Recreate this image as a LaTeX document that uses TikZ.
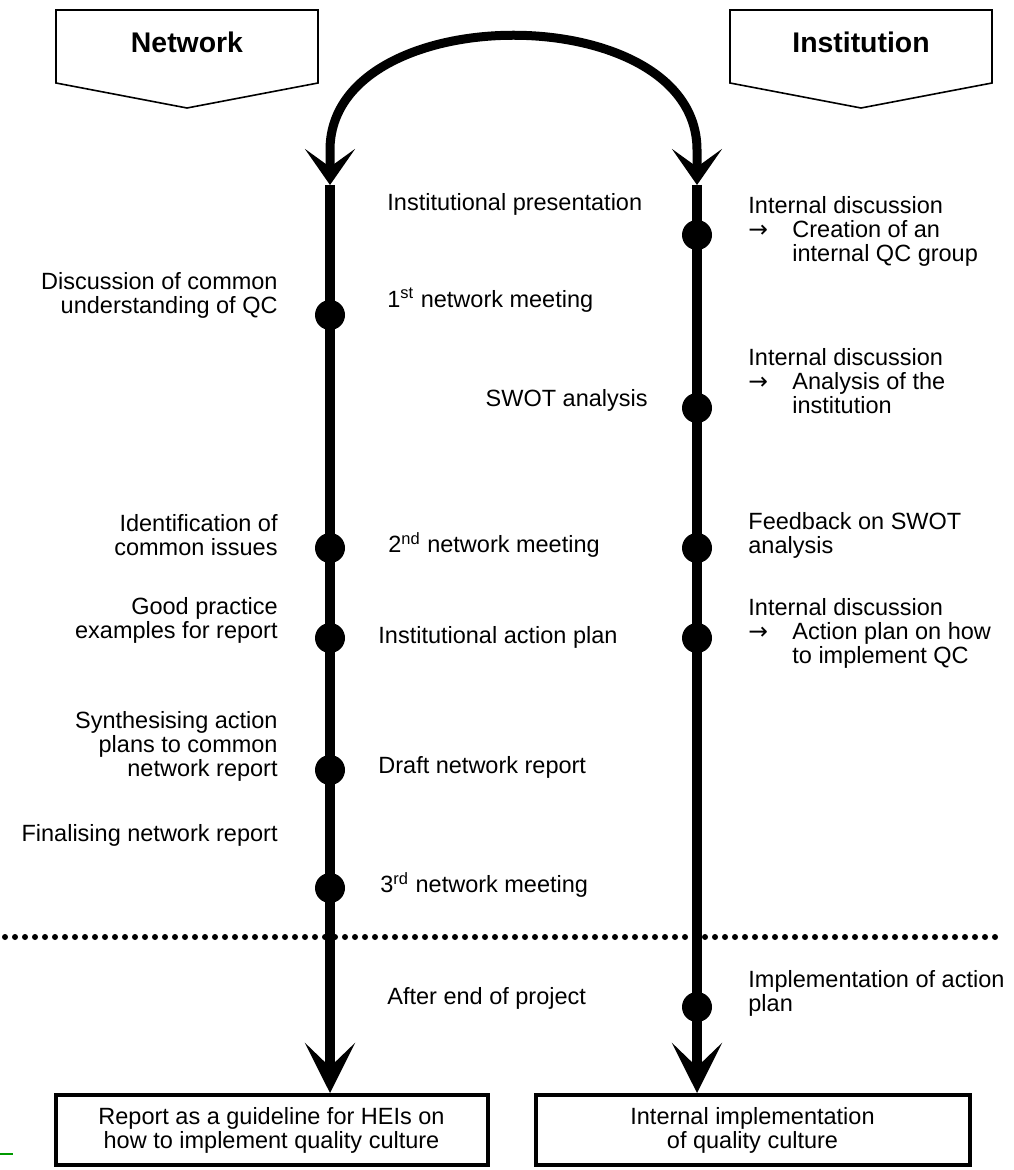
\documentclass[tikz,border=0pt]{standalone}
\usepackage{fontspec}
\setmainfont{Liberation Sans}
\newfontfamily\arrowfont{DejaVu Sans}
\usetikzlibrary{arrows.meta}
\newcommand{\rarr}{\makebox[22pt][l]{\arrowfont →}}
\begin{document}
\begin{tikzpicture}[x=0.5pt,y=-0.5pt,
  txt/.style={font=\fontsize{11.75pt}{12pt}\selectfont, inner sep=0pt},
  ltxt/.style={txt, anchor=east, align=right},
  mtxt/.style={txt, anchor=west},
  rtxt/.style={txt, anchor=west, align=left},
  head/.style={font=\fontsize{14.2pt}{16pt}\selectfont\bfseries, inner sep=0pt},
  pent/.style={draw, line width=0.8pt},
  dot/.style={circle, fill=black, minimum size=15pt, inner sep=0pt},
  flow/.style={line width=5pt, -{Stealth[length=25pt,width=25pt,inset=12pt]}},
  box/.style={draw, line width=2pt, align=center, txt, minimum height=35pt}]
\useasboundingbox (0,0) rectangle (1013,1170);

% header pentagons
\draw[pent] (56,10) -- (318,10) -- (318,83) -- (187,108) -- (56,83) -- cycle;
\node[head] (nethead) at (187,42) {Network};
\draw[pent] (730,10) -- (992,10) -- (992,83) -- (861,108) -- (730,83) -- cycle;
\node[head] (insthead) at (861,42) {Institution};

% top arc with arrows
\coordinate (Ltop) at (330,185);
\coordinate (Rtop) at (697,185);
\draw[line width=4.5pt, {Stealth[length=18pt,width=25pt,inset=9pt]}-{Stealth[length=18pt,width=25pt,inset=9pt]}]
  (Ltop) -- (330,150) .. controls (330,-3) and (697,-3) .. (697,150) -- (Rtop);

% bottom boxes
\node[box, minimum width=216pt] (repbox) at (271.5,1130) {Report as a guideline for HEIs on\\how to implement quality culture};
\node[box, minimum width=217pt] (implbox) at (752.5,1130) {Internal implementation\\of quality culture};

% vertical lines
\draw[flow] (Ltop) -- (Ltop |- repbox.north);
\draw[flow] (Rtop) -- (Rtop |- implbox.north);

% dotted separator
\draw[line width=3pt, line cap=round, dash pattern=on 0pt off 5pt] (5,937) -- (1000,937);

% dots left
\node[dot] (ld1) at (330,315) {};
\node[dot] (ld2) at (330,548) {};
\node[dot] (ld3) at (330,638) {};
\node[dot] (ld4) at (330,770) {};
\node[dot] (ld5) at (330,888) {};
% dots right
\node[dot] (rd1) at (697,235) {};
\node[dot] (rd2) at (697,408) {};
\node[dot] (rd3) at (697,548) {};
\node[dot] (rd4) at (697,638) {};
\node[dot] (rd5) at (697,1007) {};

% left texts
\node[ltxt] (l1) at (278,295) {Discussion of common\\understanding of QC};
\node[ltxt] (l2) at (278,535) {Identification of\\common issues};
\node[ltxt] (l3) at (278,620) {Good practice\\examples for report};
\node[ltxt] (l4) at (278,746) {Synthesising action\\plans to common\\network report};
\node[ltxt] (l5) at (278,835) {Finalising network report};

% middle texts
\node[mtxt] (m1) at (387,204) {Institutional presentation};
\node[mtxt] (m2) at (387,300) {1\textsuperscript{st} network meeting};
\node[txt, anchor=east] (m3) at (648,400) {SWOT analysis};
\node[mtxt] (m4) at (388,545) {2\textsuperscript{nd} network meeting};
\node[mtxt] (m5) at (378,637) {Institutional action plan};
\node[mtxt] (m6) at (378,767) {Draft network report};
\node[mtxt] (m7) at (380,885) {3\textsuperscript{rd} network meeting};
\node[mtxt] (m8) at (387,998) {After end of project};

% right texts
\node[rtxt] (r1) at (748,231) {Internal discussion\\\rarr Creation of an\\\hspace*{22pt}internal QC group};
\node[rtxt] (r2) at (748,381) {Internal discussion\\\rarr Analysis of the\\\hspace*{22pt}institution};
\node[rtxt] (r3) at (748,535) {Feedback on SWOT\\analysis};
\node[rtxt] (r4) at (748,633) {Internal discussion\\\rarr Action plan on how\\\hspace*{22pt}to implement QC};
\node[rtxt] (r5) at (748,993) {Implementation of action\\plan};

% small green mark
\draw[green!60!black, line width=0.75pt] (0,1154) -- (13,1154);
\end{tikzpicture}
\end{document}
